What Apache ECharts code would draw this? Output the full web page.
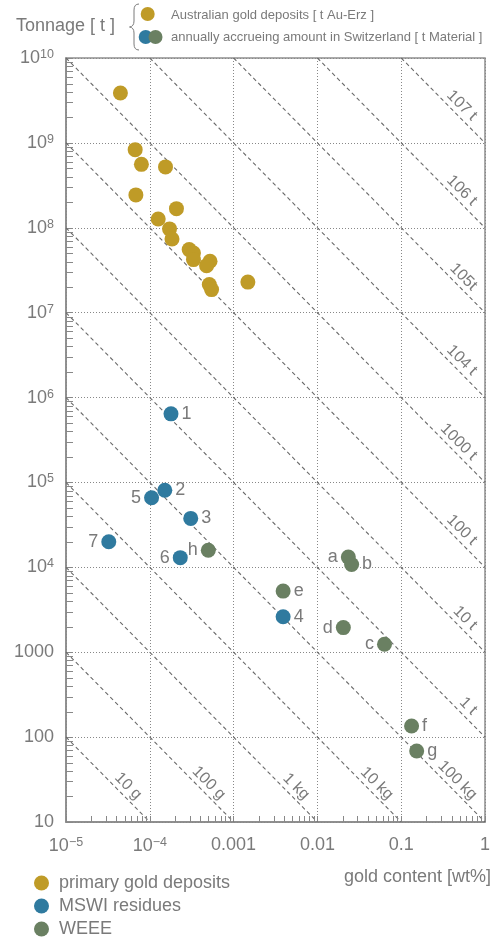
<!DOCTYPE html>
<html><head><meta charset="utf-8">
<script src="https://cdn.jsdelivr.net/npm/echarts@6/dist/echarts.min.js"></script>
<style>html,body{margin:0;padding:0;background:#fff}#c{width:493px;height:945px}</style>
</head><body><div id="c"></div>
<script>
// ---------- data ----------
const goldContent = [4.46e-5, 6.69e-5, 7.94e-5, 1.54e-4, 6.82e-5, 2.08e-4, 1.26e-4, 1.72e-4, 1.84e-4, 2.95e-4, 3.32e-4, 3.32e-4, 5.23e-4, 4.76e-4, 5.13e-4, 5.46e-4, 1.48e-3];
const goldTonnage = [3.87e9, 8.32e8, 5.59e8, 5.21e8, 2.44e8, 1.68e8, 1.27e8, 9.7e7, 7.39e7, 5.53e7, 5.03e7, 4.22e7, 4.03e7, 3.58e7, 2.14e7, 1.87e7, 2.29e7];

const mswiLabels   = ['1', '2', '3', '4', '5', '6', '7'];
const mswiContent  = [1.79e-4, 1.51e-4, 3.08e-4, 3.9e-3, 1.05e-4, 2.31e-4, 3.24e-5];
const mswiTonnage  = [6.43e5, 8.1e4, 3.77e4, 2.62e3, 6.6e4, 1.30e4, 2.0e4];

const weeeLabels   = ['a', 'b', 'c', 'd', 'e', 'f', 'g', 'h'];
const weeeContent  = [0.0234, 0.0256, 0.0632, 0.0204, 3.9e-3, 0.133, 0.153, 4.99e-4];
const weeeTonnage  = [1.32e4, 1.08e4, 1.24e3, 1.95e3, 5.25e3, 135, 68.5, 1.59e4];

const goldMassT      = [1e-5, 1e-4, 1e-3, 1e-2, 1e-1, 1, 10, 100, 1000, 1e4, 1e5, 1e6, 1e7];
const goldMassLabels = ['10 g', '100 g', '1 kg', '10 kg', '100 kg', '1 t', '10 t', '100 t', '1000 t', '104 t', '105t', '106 t', '107 t'];

const xTickLabels = ['10|−5', '10|−4', '0.001', '0.01', '0.1', '1'];
const yTickLabels = ['10', '100', '1000', '10|4', '10|5', '10|6', '10|7', '10|8', '10|9', '10|10'];

const seriesNames = ['primary gold deposits', 'MSWI residues', 'WEEE'];
const legendTop = ['Australian gold deposits [ t Au-Erz ]', 'annually accrueing amount in Switzerland [ t Material ]'];

// ---------- style ----------
const FONT = '"Liberation Sans", Helvetica, Arial, sans-serif';
const TXT = '#7a7a7a';
const AX = '#888888';
const C_GOLD = '#bf9b27', C_BLUE = '#2f7a9f', C_GREEN = '#6a8062';
const XMIN = 1e-5, XMAX = 1, YMIN = 10, YMAX = 1e10;
const leftSide = { '5': 1, '6': 1, '7': 1, 'h': 1, 'a': 1, 'd': 1, 'c': 1 };

function tickRich(s) {
  const p = s.split('|');
  return p.length === 2 ? '{b|' + p[0] + '}{s|' + p[1] + '}' : '{b|' + s + '}';
}
const richTick = {
  b: { fontSize: 18, color: TXT, fontFamily: FONT },
  s: { fontSize: 12.5, color: TXT, fontFamily: FONT, verticalAlign: 'top', padding: [0, 0, 7, 0] }
};

function zip(a, b, l) { return a.map((v, i) => l ? [v, b[i], l[i]] : [v, b[i]]); }

const diagSeries = goldMassT.map(function (M) {
  const x0 = Math.max(XMIN, M * 100 / YMAX), x1 = Math.min(XMAX, M * 100 / YMIN);
  return {
    type: 'line', silent: true, symbol: 'none', z: 1,
    lineStyle: { color: '#6a6a6a', width: 1.1, type: [4, 3] },
    data: [[x0, M * 100 / x0], [x1, M * 100 / x1]]
  };
});
const diagLabelData = goldMassT.map(function (M, i) {
  const x1 = Math.min(XMAX, M * 100 / YMIN);
  return [x1, M * 100 / x1, i];
});

// minor tick positions (2..9 within each decade)
const yMinor = [], xMinor = [];
for (let e = 1; e < 10; e++) for (let k = 2; k <= 9; k++) yMinor.push([XMIN, k * Math.pow(10, e)]);
for (let e = -5; e < 0; e++) for (let k = 2; k <= 9; k++) xMinor.push([k * Math.pow(10, e), YMIN]);

function pointLabel() {
  return {
    show: true, fontSize: 18, color: TXT, fontFamily: FONT, distance: 3,
    formatter: p => p.value[2]
  };
}
function withSide(arr) {
  return arr.map(d => ({ value: d, label: { position: leftSide[d[2]] ? 'left' : 'right' } }));
}

const braceStyle = { stroke: TXT, fill: null, lineWidth: 1 };
function bz(x1, y1, cx, cy, x2, y2) { return { type: 'bezierCurve', shape: { x1: x1, y1: y1, cpx1: cx, cpy1: cy, x2: x2, y2: y2 }, style: braceStyle }; }
function ln(x1, y1, x2, y2) { return { type: 'line', shape: { x1: x1, y1: y1, x2: x2, y2: y2 }, style: braceStyle }; }

const chart = echarts.init(document.getElementById('c'), null, { renderer: 'canvas' });
chart.setOption({
  animation: false,
  grid: { left: 66, right: 3, top: 58, bottom: 123, show: true, borderColor: '#8f8f8f', borderWidth: 1.5, backgroundColor: 'transparent' },
  xAxis: {
    type: 'log', logBase: 10, min: XMIN, max: XMAX, splitNumber: 5,
    axisLine: { show: true, lineStyle: { color: AX, width: 1.5 } },
    axisTick: { show: true, inside: true, length: 6, lineStyle: { color: AX } },
    splitLine: { show: true, lineStyle: { color: AX, type: [1, 2], width: 1 } },
    axisLabel: {
      margin: 14, rich: richTick,
      formatter: v => tickRich(xTickLabels[Math.round(Math.log10(v)) + 5])
    }
  },
  yAxis: {
    type: 'log', logBase: 10, min: YMIN, max: YMAX, splitNumber: 9,
    axisLine: { show: true, lineStyle: { color: AX, width: 1.5 } },
    axisTick: { show: true, inside: true, length: 7, lineStyle: { color: AX } },
    splitLine: { show: true, lineStyle: { color: AX, type: [1, 2], width: 1 } },
    axisLabel: {
      margin: 12, rich: richTick,
      formatter: v => tickRich(yTickLabels[Math.round(Math.log10(v)) - 1])
    }
  },
  legend: {
    orient: 'vertical', left: 29, top: 869, itemWidth: 25, itemHeight: 15, itemGap: 5,
    icon: 'circle', data: seriesNames, selectedMode: false,
    textStyle: { fontSize: 18, color: TXT, fontFamily: FONT }
  },
  graphic: [
    { type: 'text', x: 16, y: 26, style: { text: 'Tonnage [ t ]', fontSize: 18, fill: TXT, fontFamily: FONT, verticalAlign: 'middle' } },
    bz(139, 4, 134, 4, 134, 10), ln(134, 10, 134, 21), bz(134, 21, 134, 26.5, 129.5, 27),
    bz(129.5, 27, 134, 27.5, 134, 33), ln(134, 33, 134, 44), bz(134, 44, 134, 50, 139, 50),
    { type: 'circle', shape: { cx: 147.7, cy: 14, r: 7 }, style: { fill: C_GOLD } },
    { type: 'circle', shape: { cx: 145.7, cy: 37, r: 7 }, style: { fill: C_BLUE } },
    { type: 'circle', shape: { cx: 155.5, cy: 37, r: 7 }, style: { fill: C_GREEN } },
    { type: 'text', x: 171, y: 15, style: { text: legendTop[0], fontSize: 13, fill: TXT, fontFamily: FONT, verticalAlign: 'middle' } },
    { type: 'text', x: 171, y: 37.5, style: { text: legendTop[1], fontSize: 13, fill: TXT, fontFamily: FONT, verticalAlign: 'middle' } },
    { type: 'text', x: 491, y: 877, style: { text: 'gold content [wt%]', fontSize: 18, fill: TXT, fontFamily: FONT, align: 'right', verticalAlign: 'middle' } }
  ],
  series: diagSeries.concat([
    {
      type: 'custom', silent: true, z: 2, data: diagLabelData, encode: { x: 0, y: 1 },
      renderItem: function (params, api) {
        const p = api.coord([api.value(0), api.value(1)]);
        const i = api.value(2);
        const s = Math.SQRT1_2, back = 25, up = 2;
        return {
          type: 'text', x: p[0] - back * s + up * s, y: p[1] - back * s - up * s, rotation: -Math.PI / 4,
          style: { text: goldMassLabels[i], align: 'right', verticalAlign: 'bottom', fontSize: 16, fill: TXT, fontFamily: FONT }
        };
      }
    },
    {
      type: 'custom', silent: true, z: 2, data: yMinor, encode: { x: 0, y: 1 },
      renderItem: function (params, api) {
        const p = api.coord([api.value(0), api.value(1)]);
        const y = Math.round(p[1]) + 0.5;
        return { type: 'line', shape: { x1: p[0], y1: y, x2: p[0] + 7, y2: y }, style: { stroke: AX, lineWidth: 1 } };
      }
    },
    {
      type: 'custom', silent: true, z: 2, data: xMinor, encode: { x: 0, y: 1 },
      renderItem: function (params, api) {
        const p = api.coord([api.value(0), api.value(1)]);
        const x = Math.round(p[0]) + 0.5;
        return { type: 'line', shape: { x1: x, y1: p[1], x2: x, y2: p[1] - 6 }, style: { stroke: AX, lineWidth: 1 } };
      }
    },
    { name: seriesNames[0], type: 'scatter', z: 3, symbolSize: 15, itemStyle: { color: C_GOLD, opacity: 1 }, data: zip(goldContent, goldTonnage) },
    { name: seriesNames[1], type: 'scatter', z: 3, symbolSize: 15, itemStyle: { color: C_BLUE, opacity: 1 }, label: pointLabel(), data: withSide(zip(mswiContent, mswiTonnage, mswiLabels)) },
    { name: seriesNames[2], type: 'scatter', z: 3, symbolSize: 15, itemStyle: { color: C_GREEN, opacity: 1 }, label: pointLabel(), data: withSide(zip(weeeContent, weeeTonnage, weeeLabels)) }
  ])
});
</script>
</body></html>
